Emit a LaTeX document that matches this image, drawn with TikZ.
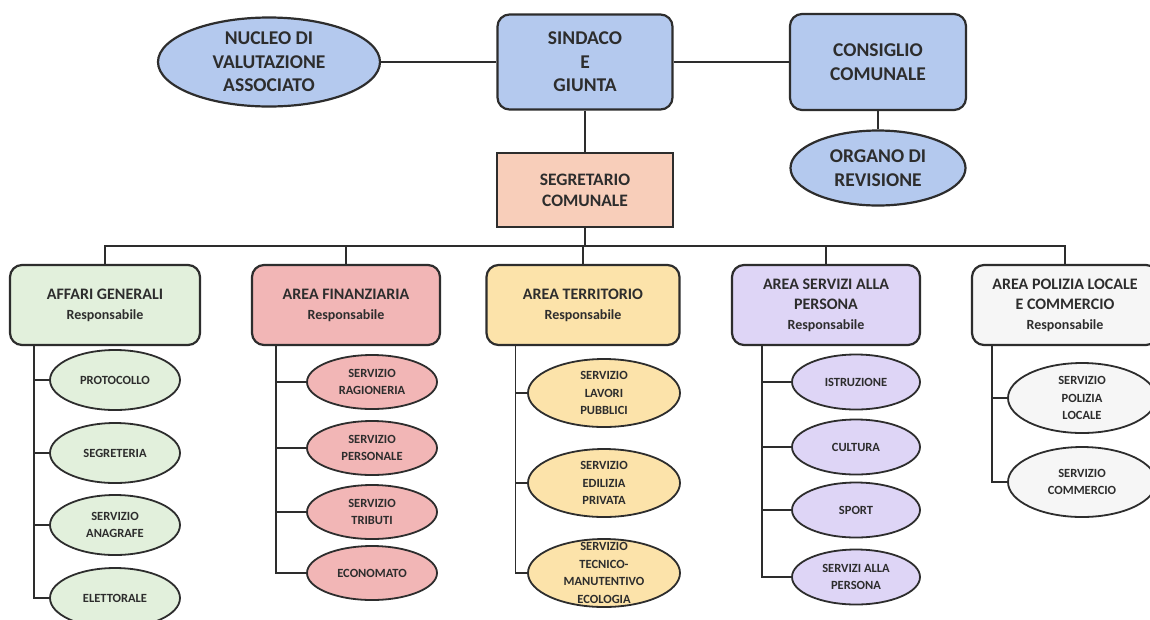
\documentclass[tikz,border=0pt]{standalone}
\usepackage{fontspec}
\setmainfont{Carlito}
\usetikzlibrary{shapes.geometric}
\definecolor{inkgrey}{RGB}{45,45,45}
\definecolor{topblue}{RGB}{180,201,238}
\definecolor{peach}{RGB}{248,206,186}
\definecolor{agreen}{RGB}{226,240,220}
\definecolor{apink}{RGB}{242,182,182}
\definecolor{ayellow}{RGB}{252,227,170}
\definecolor{alilac}{RGB}{222,213,246}
\definecolor{agrey}{RGB}{246,246,246}
\newcommand{\resp}{\fontsize{14}{17}\selectfont Responsabile}

\begin{document}
\begin{tikzpicture}[x=1pt,y=-1pt,text=inkgrey,
  topbox/.style={draw=inkgrey, line width=2.2pt, rounded corners=12pt, fill=topblue, align=center, font=\bfseries\fontsize{19.5}{23.5}\selectfont},
  topoval/.style={ellipse, draw=inkgrey, line width=2.2pt, fill=topblue, align=center, inner sep=-40pt, font=\bfseries\fontsize{19.5}{23.5}\selectfont},
  areabox/.style={draw=inkgrey, line width=2.2pt, rounded corners=12pt, align=center, minimum height=80pt, font=\bfseries\fontsize{16}{20}\selectfont},
  svc/.style={ellipse, draw=inkgrey, line width=1.8pt, align=center, inner sep=-40pt, font=\bfseries\fontsize{12.5}{17.5}\selectfont},
  link/.style={draw=inkgrey, line width=1.8pt}]
\useasboundingbox[fill=white] (0,0) rectangle (1150,619);
\node[topoval, minimum width=222pt, minimum height=89pt] (nucleo) at (269,62) {NUCLEO DI\\VALUTAZIONE\\ASSOCIATO};
\node[topbox, minimum width=175pt, minimum height=95pt] (sindaco) at (585,62) {SINDACO\\E\\GIUNTA};
\node[topbox, minimum width=176pt, minimum height=96pt] (consiglio) at (878,62) {CONSIGLIO\\COMUNALE};
\node[topoval, minimum width=175pt, minimum height=75pt] (organo) at (878,168) {ORGANO DI\\REVISIONE};
\node[draw=inkgrey, line width=2.2pt, fill=peach, align=center, minimum width=176pt, minimum height=74pt, font=\bfseries\fontsize{17.5}{21}\selectfont] (segretario) at (585,190) {SEGRETARIO\\COMUNALE};
\draw[link] (nucleo) -- (sindaco);\draw[link] (sindaco) -- (consiglio);
\draw[link] (sindaco) -- (segretario);\draw[link] (consiglio) -- (organo);

\node[areabox, fill=agreen, minimum width=190pt] (ag) at (105,305) {AFFARI GENERALI\\\resp};
\node[areabox, fill=apink, minimum width=188pt] (af) at (346,305) {AREA FINANZIARIA\\\resp};
\node[areabox, fill=ayellow, minimum width=193pt] (at) at (583,305) {AREA TERRITORIO\\\resp};
\node[areabox, fill=alilac, minimum width=188pt] (as) at (826,305) {AREA SERVIZI ALLA\\PERSONA\\\resp};
\node[areabox, fill=agrey, minimum width=186pt] (pl) at (1065,305) {AREA POLIZIA LOCALE\\E COMMERCIO\\\resp};
\coordinate (bus) at (585,246);
\draw[link] (segretario) -- (bus);\draw[link] (ag.north) |- (bus) -| (pl.north);
\draw[link] (af.north) -- (af.north |- bus);\draw[link] (at.north) -- (at.north |- bus);\draw[link] (as.north) -- (as.north |- bus);

\node[svc, fill=agreen, minimum width=130pt, minimum height=60pt] (ag1) at (115,380) {PROTOCOLLO};
\node[svc, fill=agreen, minimum width=130pt, minimum height=60pt] (ag2) at (115,453) {SEGRETERIA};
\node[svc, fill=agreen, minimum width=130pt, minimum height=60pt] (ag3) at (115,525) {SERVIZIO\\ANAGRAFE};
\node[svc, fill=agreen, minimum width=130pt, minimum height=60pt] (ag4) at (115,598) {ELETTORALE};
\coordinate (agt) at ([xshift=25pt]ag.south west);
\draw[link] (agt) |- (ag4.west);\draw[link] (agt |- ag1.west) -- (ag1.west);\draw[link] (agt |- ag2.west) -- (ag2.west);\draw[link] (agt |- ag3.west) -- (ag3.west);

\node[svc, fill=apink, minimum width=130pt, minimum height=54pt] (af1) at (372,382) {SERVIZIO\\RAGIONERIA};
\node[svc, fill=apink, minimum width=130pt, minimum height=54pt] (af2) at (372,448) {SERVIZIO\\PERSONALE};
\node[svc, fill=apink, minimum width=130pt, minimum height=54pt] (af3) at (372,512) {SERVIZIO\\TRIBUTI};
\node[svc, fill=apink, minimum width=130pt, minimum height=54pt] (af4) at (372,573) {ECONOMATO};
\coordinate (aft) at ([xshift=25pt]af.south west);
\draw[link] (aft) |- (af4.west);\draw[link] (aft |- af1.west) -- (af1.west);\draw[link] (aft |- af2.west) -- (af2.west);\draw[link] (aft |- af3.west) -- (af3.west);

\node[svc, fill=ayellow, minimum width=152pt, minimum height=68pt] (at1) at (604,393) {SERVIZIO\\LAVORI\\PUBBLICI};
\node[svc, fill=ayellow, minimum width=152pt, minimum height=68pt] (at2) at (604,483) {SERVIZIO\\EDILIZIA\\PRIVATA};
\node[svc, fill=ayellow, minimum width=152pt, minimum height=68pt] (at3) at (604,573) {SERVIZIO\\TECNICO-\\MANUTENTIVO\\ECOLOGIA};
\coordinate (att) at ([xshift=30pt]at.south west);
\draw[link] (att) |- (at3.west);\draw[link] (att |- at1.west) -- (at1.west);\draw[link] (att |- at2.west) -- (at2.west);

\node[svc, fill=alilac, minimum width=128pt, minimum height=55pt] (as1) at (856,382) {ISTRUZIONE};
\node[svc, fill=alilac, minimum width=128pt, minimum height=55pt] (as2) at (856,447) {CULTURA};
\node[svc, fill=alilac, minimum width=128pt, minimum height=55pt] (as3) at (856,510) {SPORT};
\node[svc, fill=alilac, minimum width=128pt, minimum height=55pt] (as4) at (856,577) {SERVIZI ALLA\\PERSONA};
\coordinate (ast) at ([xshift=31pt]as.south west);
\draw[link] (ast) |- (as4.west);\draw[link] (ast |- as1.west) -- (as1.west);\draw[link] (ast |- as2.west) -- (as2.west);\draw[link] (ast |- as3.west) -- (as3.west);

\node[svc, fill=agrey, minimum width=148pt, minimum height=70pt] (pl1) at (1082,398) {SERVIZIO\\POLIZIA\\LOCALE};
\node[svc, fill=agrey, minimum width=148pt, minimum height=70pt] (pl2) at (1082,482) {SERVIZIO\\COMMERCIO};
\coordinate (plt) at ([xshift=21pt]pl.south west);
\draw[link] (plt) |- (pl2.west);\draw[link] (plt |- pl1.west) -- (pl1.west);
\end{tikzpicture}
\end{document}
